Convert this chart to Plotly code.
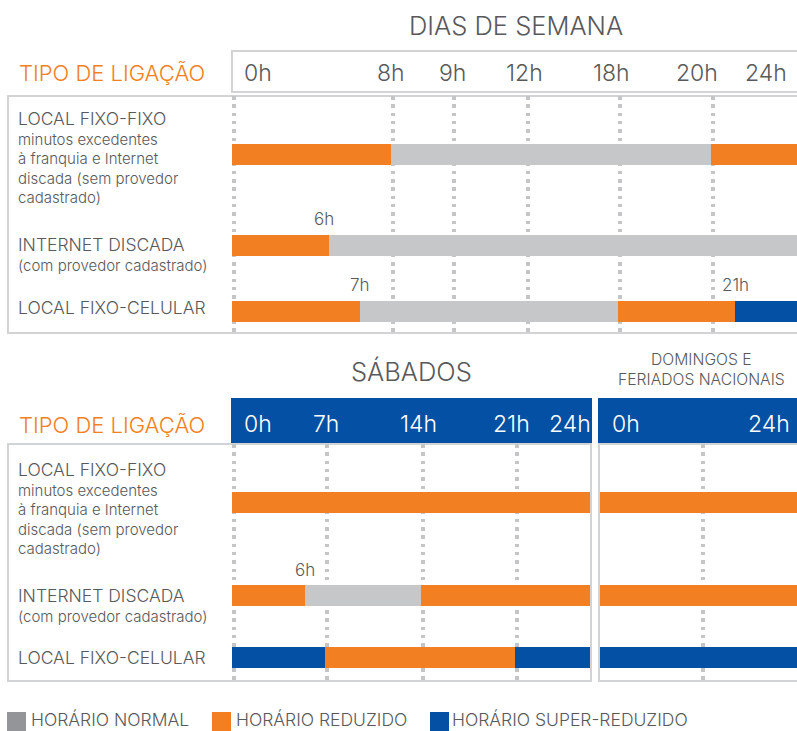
import numpy as np
import plotly.graph_objects as go

W, H = 797, 731

# ---------------- data ----------------
ROW_NAMES = ["LOCAL FIXO-FIXO", "INTERNET DISCADA", "LOCAL FIXO-CELULAR"]
ROW_SUBLINES = [
    ["minutos excedentes", "à franquia e Internet", "discada (sem provedor", "cadastrado)"],
    ["(com provedor cadastrado)"],
    [],
]
TARIFFS = ["HORÁRIO NORMAL", "HORÁRIO REDUZIDO", "HORÁRIO SUPER-REDUZIDO"]

# weekday segments (row index, start hour, end hour, tariff index)
WD_ROW   = [0, 0, 0, 1, 1, 2, 2, 2, 2]
WD_START = [0, 8, 20, 0, 6, 0, 7, 18, 21]
WD_END   = [8, 20, 24, 6, 24, 7, 18, 21, 24]
WD_TYPE  = [1, 0, 1, 1, 0, 1, 0, 1, 2]
WD_TICKS = ["0h", "8h", "9h", "12h", "18h", "20h", "24h"]
WD_GRID_HOURS = [0, 8, 9, 12, 18, 20]
WD_MARKS = [(1, 6, "6h"), (2, 7, "7h"), (2, 21, "21h")]

# saturday segments
SA_ROW   = [0, 1, 1, 1, 2, 2, 2]
SA_START = [0, 0, 6, 14, 0, 7, 21]
SA_END   = [24, 6, 14, 24, 7, 21, 24]
SA_TYPE  = [1, 1, 0, 1, 2, 1, 2]
SA_TICKS = ["0h", "7h", "14h", "21h", "24h"]
SA_GRID_HOURS = [0, 7, 14, 21]
SA_MARKS = [(1, 6, "6h")]

# sundays & national holidays
SU_ROW   = [0, 1, 2]
SU_START = [0, 0, 0]
SU_END   = [24, 24, 24]
SU_TYPE  = [1, 1, 2]
SU_TICKS = ["0h", "24h"]
SU_GRID_HOURS = [12]

# ---------------- styles / layout ----------------
COLORS = ["#C6C7C9", "#F28023", "#0450A4"]
LEGEND_SWATCH = ["#939598", "#F28023", "#0450A4"]
TXT = "#58595B"
ORANGE = "#F28023"
BLUE = "#0450A4"
BORDER = "#D1D3D4"
DOTS = "#C4C5C7"
FONT = "Inter"
WEIGHT = 300

def X(p):
    return p / W

def Y(p):
    return 1 - p / H

# non-proportional infographic time scales (hour -> horizontal position)
WD_SCALE = ([0, 6, 7, 8, 9, 12, 18, 20, 21, 24], [232, 329, 360, 391, 452, 526, 618, 711, 735, 797])
SA_SCALE = ([0, 6, 7, 14, 21, 24], [232, 305, 325, 421, 515, 590])
SU_SCALE = ([0, 12, 24], [600, 701, 797])

panels = [
    dict(ax="", rows=WD_ROW, start=WD_START, end=WD_END, typ=WD_TYPE, scale=WD_SCALE,
         grid=WD_GRID_HOURS, xr=(232, 797), yr=(96, 333), rowy=[154.5, 245.5, 311.5],
         marks=WD_MARKS, marky=[None, 219, 285], markshift={6: -5}),
    dict(ax="2", rows=SA_ROW, start=SA_START, end=SA_END, typ=SA_TYPE, scale=SA_SCALE,
         grid=SA_GRID_HOURS, xr=(232, 590), yr=(444, 681), rowy=[502.5, 595.5, 657.5],
         marks=SA_MARKS, marky=[None, 570, None], markshift={}),
    dict(ax="3", rows=SU_ROW, start=SU_START, end=SU_END, typ=SU_TYPE, scale=SU_SCALE,
         grid=SU_GRID_HOURS, xr=(600, 797), yr=(444, 681), rowy=[502.5, 595.5, 657.5],
         marks=[], marky=[None, None, None], markshift={}),
]

fig = go.Figure()
annotations = []
shapes = []

def fnt(size, color=TXT):
    return dict(family=FONT, size=size, color=color, weight=WEIGHT)

for p in panels:
    hrs, pos = p["scale"]
    m = lambda h: float(np.interp(h, hrs, pos))
    for t in range(3):
        idx = [i for i in range(len(p["rows"])) if p["typ"][i] == t]
        if not idx:
            continue
        base = [m(p["start"][i]) for i in idx]
        length = [m(p["end"][i]) - m(p["start"][i]) for i in idx]
        yv = [p["rowy"][p["rows"][i]] for i in idx]
        fig.add_trace(go.Bar(
            x=length, base=base, y=yv, orientation="h", width=21,
            marker=dict(color=COLORS[t], line=dict(width=0)),
            xaxis="x" + p["ax"], yaxis="y" + p["ax"], showlegend=False,
            hoverinfo="skip",
        ))
    xa = dict(domain=[X(p["xr"][0]), X(p["xr"][1])], range=list(p["xr"]),
              tickvals=[m(h) + 1.6 for h in p["grid"]], showticklabels=False, ticks="",
              showgrid=True, gridcolor=DOTS, gridwidth=3.5, griddash="3.5px,4.8px",
              zeroline=False, showline=False, fixedrange=True,
              anchor="y" + p["ax"])
    ya = dict(domain=[Y(p["yr"][1]), Y(p["yr"][0])], range=[p["yr"][1], p["yr"][0]],
              showticklabels=False, ticks="", showgrid=False, zeroline=False,
              showline=False, fixedrange=True, anchor="x" + p["ax"])
    fig.update_layout(**{"xaxis" + p["ax"]: xa, "yaxis" + p["ax"]: ya})
    for (r, h, lab) in p["marks"]:
        annotations.append(dict(x=m(h), y=p["marky"][r], xref="x" + p["ax"], yref="y" + p["ax"],
                                xshift=p["markshift"].get(h, 0),
                                text=lab, showarrow=False, xanchor="center", yanchor="middle",
                                font=fnt(17)))

def txt(x, y, s, size, color=TXT, anchor="left", align="left", yanchor="middle", pad=1):
    annotations.append(dict(x=X(x), y=Y(y), xref="paper", yref="paper", text=s,
                            showarrow=False, xanchor=anchor, yanchor=yanchor, align=align,
                            borderpad=pad, font=fnt(size, color)))

# boxes
def rect(x0, y0, x1, y1, fill="rgba(0,0,0,0)", line=BORDER, lw=2):
    shapes.append(dict(type="rect", xref="paper", yref="paper", x0=X(x0), x1=X(x1),
                       y0=Y(y1), y1=Y(y0), fillcolor=fill,
                       line=dict(color=line, width=lw), layer="below"))

rect(232, 51, 802, 92)
rect(8, 96, 802, 333)
rect(231, 398, 592, 443, fill=BLUE, lw=0)
rect(598, 398, 802, 443, fill=BLUE, lw=0)
rect(8, 444, 591, 681)
rect(599, 444, 802, 681)

# titles
txt(516, 25, "DIAS DE SEMANA", 25.5, anchor="center")
txt(411, 371, "SÁBADOS", 25.5, anchor="center")
txt(701, 369, "DOMINGOS E<br>FERIADOS NACIONAIS", 15.7, anchor="center", align="center")
txt(17, 73, "TIPO DE LIGAÇÃO", 22, color=ORANGE)
txt(17, 425, "TIPO DE LIGAÇÃO", 22, color=ORANGE)

# header tick labels
for s, cx in zip(WD_TICKS, [258, 391, 452, 524, 611, 697, 766]):
    txt(cx, 73, s, 23, anchor="center")
for s, cx in zip(SA_TICKS, [258, 326, 418, 511, 570]):
    txt(cx, 424, s, 23, color="white", anchor="center")
for s, cx in zip(SU_TICKS, [626, 769]):
    txt(cx, 424, s, 23, color="white", anchor="center")

# row labels (one multi-line block per row)
ROW_CENTERS = ([157, 254.5, 308], [508.5, 605.5, 657])
for centers in ROW_CENTERS:
    for r in range(3):
        lines = ["<span style='font-size:17.5px'>%s</span>" % ROW_NAMES[r]] + ROW_SUBLINES[r]
        txt(16, centers[r], "<br>".join(lines), 15)

# legend
for t, (x0, tx) in enumerate([(7, 30), (212, 235), (430, 451)]):
    shapes.append(dict(type="rect", xref="paper", yref="paper", x0=X(x0), x1=X(x0 + 19),
                       y0=Y(735), y1=Y(712), fillcolor=LEGEND_SWATCH[t], line=dict(width=0)))
    txt(tx, 731, TARIFFS[t], 17.5, yanchor="bottom", pad=0)

fig.update_layout(width=W, height=H, margin=dict(l=0, r=0, t=0, b=0),
                  paper_bgcolor="white", plot_bgcolor="rgba(0,0,0,0)",
                  barmode="overlay", bargap=0, showlegend=False,
                  annotations=annotations, shapes=shapes)

fig.write_html("out.html")
